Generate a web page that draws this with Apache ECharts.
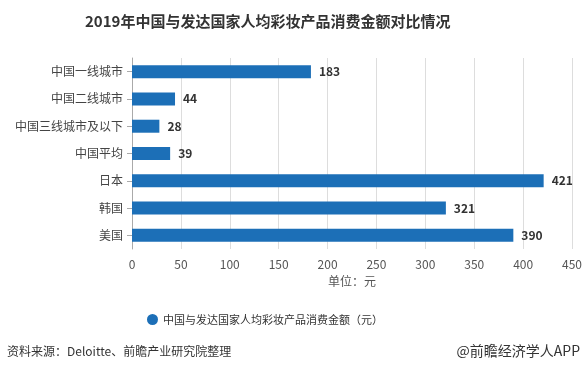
<!DOCTYPE html>
<html><head><meta charset="utf-8">
<script src="https://cdn.jsdelivr.net/npm/echarts@6/dist/echarts.min.js"></script>
<style>html,body{margin:0;padding:0;background:#fff}#c{width:585px;height:372px}</style>
</head><body><div id="c"></div>
<script>
const categories = ['中国一线城市','中国二线城市','中国三线城市及以下','中国平均','日本','韩国','美国'];
const values = [183, 44, 28, 39, 421, 321, 390];
const seriesName = '中国与发达国家人均彩妆产品消费金额（元）';
const xTicks = {min: 0, max: 450, interval: 50};

const chart = echarts.init(document.getElementById('c'));
const font = '"Microsoft YaHei","Noto Sans CJK SC",sans-serif';
chart.setOption({
  animation: false,
  title: {text: '2019年中国与发达国家人均彩妆产品消费金额对比情况', left: 80, top: 9,
    textStyle: {fontSize: 15, fontWeight: 'bold', color: '#333', fontFamily: font}},
  legend: {data: [seriesName], bottom: 42, left: 142, icon: 'circle', itemWidth: 11, itemHeight: 11, itemGap: 5,
    textStyle: {fontSize: 11, color: '#333', fontFamily: font}},
  grid: {left: 132, right: 12, top: 58, bottom: 123},
  xAxis: {type: 'value', min: xTicks.min, max: xTicks.max, interval: xTicks.interval,
    name: '单位：元', nameLocation: 'middle', nameGap: 26,
    nameTextStyle: {fontSize: 12, color: '#555', fontFamily: font},
    axisLine: {show: false}, axisTick: {show: false},
    axisLabel: {fontSize: 12, color: '#555', margin: 9, fontFamily: font},
    splitLine: {show: true, lineStyle: {color: '#ddd'}}},
  yAxis: {type: 'category', data: categories, inverse: true,
    axisLine: {show: true, lineStyle: {color: '#aaa'}},
    axisTick: {show: true, alignWithLabel: true, length: 5, lineStyle: {color: '#aaa'}},
    axisLabel: {fontSize: 12, color: '#444', margin: 9, fontFamily: font}},
  series: [{name: seriesName, type: 'bar', data: values, barWidth: 13,
    itemStyle: {color: '#1c6fb7'},
    label: {show: true, position: 'right', distance: 8, fontSize: 12, fontWeight: 'bold', color: '#333', fontFamily: font}}],
  graphic: [
    {type: 'text', left: 7, top: 345, style: {text: '资料来源：Deloitte、前瞻产业研究院整理', fontSize: 12, fill: '#333', fontFamily: font}},
    {type: 'text', right: 5, top: 344, style: {text: '@前瞻经济学人APP', fontSize: 14, fill: '#333', fontFamily: font}}
  ]
});
</script></body></html>
